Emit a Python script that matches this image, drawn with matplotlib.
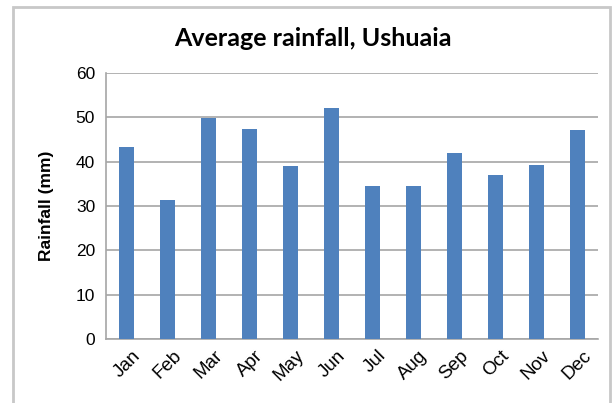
import matplotlib
matplotlib.use('Agg')
import matplotlib.pyplot as plt
from matplotlib.patches import Rectangle
from matplotlib.transforms import ScaledTranslation

months = ['Jan', 'Feb', 'Mar', 'Apr', 'May', 'Jun',
          'Jul', 'Aug', 'Sep', 'Oct', 'Nov', 'Dec']
rainfall = [43.3, 31.4, 49.9, 47.4, 39.0, 52.1,
            34.5, 34.5, 42.0, 37.0, 39.2, 47.1]

plt.rcParams['font.family'] = ['Liberation Sans', 'DejaVu Sans']

fig = plt.figure(figsize=(6.14, 4.03), dpi=100)
# outer chart frame (bottom edge is cut off in the original)
fig.patches.append(Rectangle((0.021, -0.05), 0.972, 1.033, transform=fig.transFigure,
                             fill=False, edgecolor='#c8c8c8', linewidth=2))
ax = fig.add_axes([0.173, 0.159, 0.801, 0.660])

x = range(len(months))
ax.bar(x, rainfall, width=0.37, color='#4f81bd', zorder=3)

ax.set_ylim(0, 60)
ax.set_xlim(-0.5, len(months) - 0.5)
ax.set_yticks(range(0, 61, 10))
ax.yaxis.grid(True, color='#a6a6a6', linewidth=1.2, zorder=0)
ax.set_xticks(list(x))
ax.set_xticklabels(months, rotation=45, fontsize=13.5)
ax.tick_params(axis='y', labelsize=12.5, length=0, pad=8)
ax.tick_params(axis='x', length=0, pad=6)
offset = ScaledTranslation(0.05, 0, fig.dpi_scale_trans)
for lbl in ax.get_xticklabels():
    lbl.set_ha('right')
    lbl.set_rotation_mode('anchor')
    lbl.set_transform(lbl.get_transform() + offset)

for s in ['top', 'right']:
    ax.spines[s].set_visible(False)
ax.spines['left'].set_color('#a6a6a6')
ax.spines['bottom'].set_color('#a6a6a6')
ax.spines['left'].set_linewidth(1.2)
ax.spines['bottom'].set_linewidth(1.2)

ax.set_ylabel('Rainfall (mm)', fontsize=12.5, fontweight='bold', labelpad=16)
fig.text(0.51, 0.905, 'Average rainfall, Ushuaia', ha='center', va='center',
         fontsize=18, fontweight='bold', family=['Lato', 'DejaVu Sans'])

fig.savefig('out.png', dpi=100)
